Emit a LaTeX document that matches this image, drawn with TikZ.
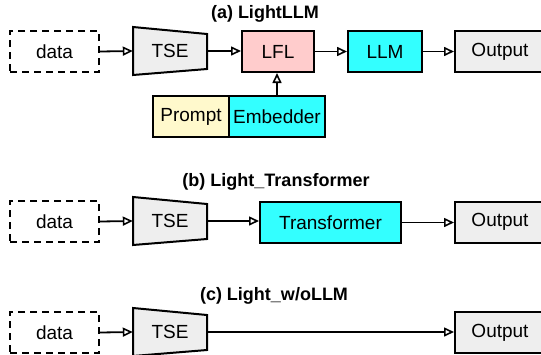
\documentclass[tikz,border=0pt]{standalone}
\usepackage{fontspec}
\setmainfont{Liberation Sans}
\usetikzlibrary{arrows.meta,backgrounds}
\definecolor{lflpink}{HTML}{FFCCCC}
\definecolor{cyanbox}{HTML}{33FFFF}
\definecolor{graybox}{HTML}{EEEEEE}
\definecolor{promptyel}{HTML}{FFF9CC}
\begin{document}
\begin{tikzpicture}[x=1pt,y=-1pt,
  box/.style={draw, line width=2pt, minimum height=41pt, inner sep=0pt,
    font=\fontsize{19}{22}\selectfont},
  databox/.style={box, dash pattern=on 7pt off 5pt, minimum width=89pt},
  tsebox/.style={inner sep=0pt, minimum width=74pt, minimum height=48pt,
    font=\fontsize{19}{22}\selectfont},
  trap/.style={draw, fill=graybox, line width=2pt, line join=miter},
  arr/.style={-{Triangle[open,length=10pt,width=9pt,line width=1.6pt]}, line width=1.8pt},
  ttl/.style={font=\bfseries\fontsize{18}{21}\selectfont}]
\useasboundingbox (0,0) rectangle (541,354);

% ---- (a)
\node[ttl] (ta) at (265,14) {(a) LightLLM};
\node[databox] (da) at (54.5,51.5) {data};
\node[tsebox] (tsea) at (170,51) {TSE};
\node[box, fill=lflpink, minimum width=72pt] (lfl) at (278,51.5) {LFL};
\node[box, fill=cyanbox, minimum width=74pt] (llm) at (385,51.5) {LLM};
\node[box, fill=graybox, minimum width=90pt] (oa) at (500,51.5) {Output};
\node[box, fill=promptyel, minimum width=76pt] (prompt) at (191,116.5) {Prompt};
\node[box, fill=cyanbox, minimum width=96pt] (emb) at (277,116.5) {Embedder};

% ---- (b)
\node[ttl] (tb) at (276,182) {(b) Light\_Transformer};
\node[databox] (db) at (54.5,221.5) {data};
\node[tsebox] (tseb) at (170,221) {TSE};
\node[box, fill=cyanbox, minimum width=141pt] (trf) at (330.5,222.5) {Transformer};
\node[box, fill=graybox, minimum width=90pt] (ob) at (500,222) {Output};

% ---- (c)
\node[ttl] (tc) at (274,296) {(c) Light\_w/oLLM};
\node[databox] (dc) at (54.5,332.5) {data};
\node[tsebox] (tsec) at (170,332) {TSE};
\node[box, fill=graybox, minimum width=90pt] (oc) at (500,332.5) {Output};

% background and trapezoids
\begin{scope}[on background layer]
\fill[white] (0,0) rectangle (541,354);
\foreach \t in {tsea,tseb,tsec}{
  \draw[trap] ([shift={(-37,-24)}]\t.center) -- ([shift={(37,-17)}]\t.center)
    -- ([shift={(37,18)}]\t.center) -- ([shift={(-37,24)}]\t.center) -- cycle;
}
\end{scope}

% connectors
\draw[arr] (da.east) -- (tsea.west);
\draw[arr] (tsea.east) -- (tsea.east -| lfl.west);
\draw[arr] (lfl.east) -- (llm.west);
\draw[arr] (llm.east) -- (oa.west);
\draw[arr] (emb.north) -- (emb.north |- lfl.south);

\draw[arr] (db.east) -- (tseb.west);
\draw[arr] (tseb.east) -- (tseb.east -| trf.west);
\draw[arr] (trf.east) -- (trf.east -| ob.west);

\draw[arr] (dc.east) -- (tsec.west);
\draw[arr] (tsec.east) -- (tsec.east -| oc.west);
\end{tikzpicture}
\end{document}
